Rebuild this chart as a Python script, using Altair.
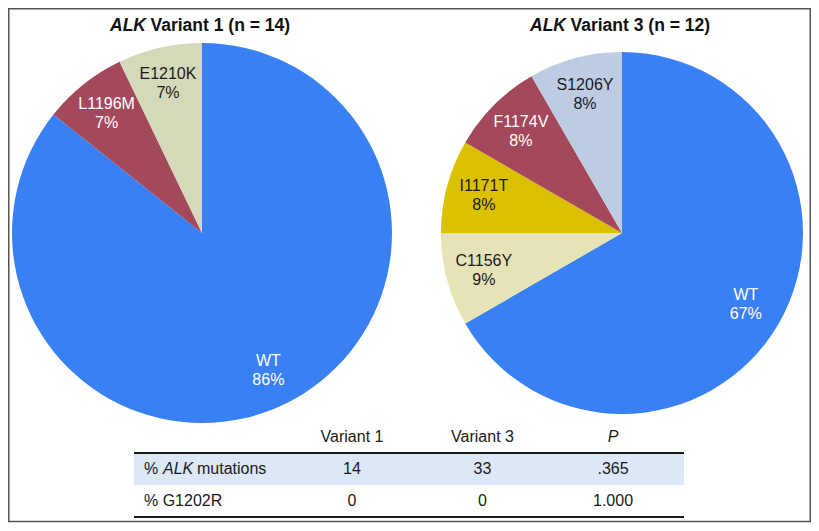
import altair as alt
import pandas as pd

FONT = "Liberation Sans"

# ---- pie data ----
v1_slices = ["WT", "L1196M", "E1210K"]
v1_counts = [12, 1, 1]
v1_pct = [86, 7, 7]

v3_slices = ["WT", "C1156Y", "I1171T", "F1174V", "S1206Y"]
v3_counts = [8, 1, 1, 1, 1]
v3_pct = [67, 9, 8, 8, 8]

titles = [("ALK", "Variant 1 (n = 14)"), ("ALK", "Variant 3 (n = 12)")]

# ---- table data ----
table_columns = ["Variant 1", "Variant 3", "P"]
row_keys = ["r1", "r2"]
row_label_parts = [("%", "ALK", "mutations"), ("% G1202R", "", "")]
row_values = [["14", "33", ".365"], ["0", "0", "1.000"]]

slice_domain = ["WT", "L1196M", "E1210K", "C1156Y", "I1171T", "F1174V", "S1206Y"]
slice_colors = ["#3a80f5", "#a4485b", "#d4d9b9", "#e6e4b6", "#dbc000", "#a4485b", "#bdcce3"]
light_text = ["WT", "L1196M", "F1174V"]


def pie_layers(slices, counts, pcts, title, R, label_r, cx, cy, title_x):
    df = pd.DataFrame({
        "slice": slices,
        "count": counts,
        "order": list(range(len(slices))),
        "label": [f"{s}\n{p}%" for s, p in zip(slices, pcts)],
    })
    base = alt.Chart(df).encode(
        theta=alt.Theta("count:Q", stack="normalize"),
        order=alt.Order("order:Q"),
    )
    arcs = base.mark_arc(outerRadius=R).encode(
        color=alt.Color("slice:N", scale=alt.Scale(domain=slice_domain, range=slice_colors), legend=None),
        x=alt.value(cx),
        y=alt.value(cy),
    )
    labels = base.mark_text(radius=label_r, lineBreak="\n", lineHeight=19, dy=-9.5,
                            font=FONT, fontSize=16, baseline="middle").encode(
        text="label:N",
        color=alt.condition(alt.FieldOneOfPredicate(field="slice", oneOf=light_text),
                            alt.value("white"), alt.value("#1a1a1a")),
        x=alt.value(cx),
        y=alt.value(cy),
    )
    tdf = pd.DataFrame({"a": [title[0]], "b": [title[1]]})
    t1 = alt.Chart(tdf).mark_text(align="right", baseline="middle", font=FONT, fontSize=17.5,
                                  fontWeight="bold", fontStyle="italic", color="#111").encode(
        text="a:N", x=alt.value(title_x), y=alt.value(18))
    t2 = alt.Chart(tdf).mark_text(align="left", baseline="middle", font=FONT, fontSize=17.5,
                                  fontWeight="bold", color="#111", dx=4.5).encode(
        text="b:N", x=alt.value(title_x), y=alt.value(18))
    return [arcs, labels, t1, t2]


frame = alt.Chart(pd.DataFrame({"k": [0]})).mark_rect(
    fill=None, stroke="#555", strokeWidth=1.5).encode(
    x=alt.value(0.75), x2=alt.value(802.25), y=alt.value(0.75), y2=alt.value(513.5))

layers = (pie_layers(v1_slices, v1_counts, v1_pct, titles[0], 190, 153, 194, 225, 138)
          + pie_layers(v3_slices, v3_counts, v3_pct, titles[1], 181, 143, 614, 225, 558)
          + [frame])
pies = alt.layer(*layers).resolve_scale(theta="independent").properties(width=803, height=413)

# ---- table ----
ydom = ["hdr"] + row_keys
yscale = alt.Scale(type="band", domain=ydom, paddingInner=0, paddingOuter=0)
xscale = alt.Scale(type="point", domain=table_columns, range=[344, 605], padding=0)

cells = pd.DataFrame([
    {"row": rk, "col": c, "val": v}
    for rk, vals in zip(row_keys, row_values)
    for c, v in zip(table_columns, vals)
])
hdr = pd.DataFrame({"row": ["hdr"] * len(table_columns), "col": table_columns})
rl = pd.DataFrame({
    "row": row_keys,
    "a": [p[0] for p in row_label_parts],
    "b": [p[1] for p in row_label_parts],
    "c": [p[2] for p in row_label_parts],
})

Y = alt.Y("row:N", scale=yscale, axis=None)
TXT = dict(font=FONT, fontSize=16, baseline="middle", color="#1a1a1a")

band = alt.Chart(pd.DataFrame({"row": ["r1"]})).mark_rect(color="#dce7f8").encode(
    y=Y, x=alt.value(126), x2=alt.value(676))
rule_top = alt.Chart(pd.DataFrame({"row": ["r1"]})).mark_rule(color="#1a1a1a", strokeWidth=2).encode(
    y=alt.Y("row:N", scale=yscale, axis=None, bandPosition=0), x=alt.value(126), x2=alt.value(676))
rule_bot = alt.Chart(pd.DataFrame({"row": ["r2"]})).mark_rule(color="#1a1a1a", strokeWidth=2).encode(
    y=alt.Y("row:N", scale=yscale, axis=None, bandPosition=1), x=alt.value(126), x2=alt.value(676))

vals = alt.Chart(cells).mark_text(**TXT).encode(
    x=alt.X("col:N", scale=xscale, axis=None), y=Y, text="val:N")
hdr_norm = alt.Chart(hdr).transform_filter(alt.datum.col != "P").mark_text(**TXT).encode(
    x=alt.X("col:N", scale=xscale, axis=None), y=Y, text="col:N")
hdr_ital = alt.Chart(hdr).transform_filter(alt.datum.col == "P").mark_text(fontStyle="italic", **TXT).encode(
    x=alt.X("col:N", scale=xscale, axis=None), y=Y, text="col:N")
lab_a = alt.Chart(rl).mark_text(align="left", **TXT).encode(x=alt.value(136), y=Y, text="a:N")
lab_b = alt.Chart(rl).mark_text(align="left", fontStyle="italic", **TXT).encode(x=alt.value(155), y=Y, text="b:N")
lab_c = alt.Chart(rl).mark_text(align="left", **TXT).encode(x=alt.value(189), y=Y, text="c:N")

table = alt.layer(band, rule_top, rule_bot, vals, hdr_norm, hdr_ital, lab_a, lab_b, lab_c).properties(
    width=676, height=96)

chart = alt.vconcat(pies, table, spacing=0, bounds="flush").properties(padding=0).configure_view(stroke=None)

chart.save("out.html", embed_options={"renderer": "svg", "actions": False})
